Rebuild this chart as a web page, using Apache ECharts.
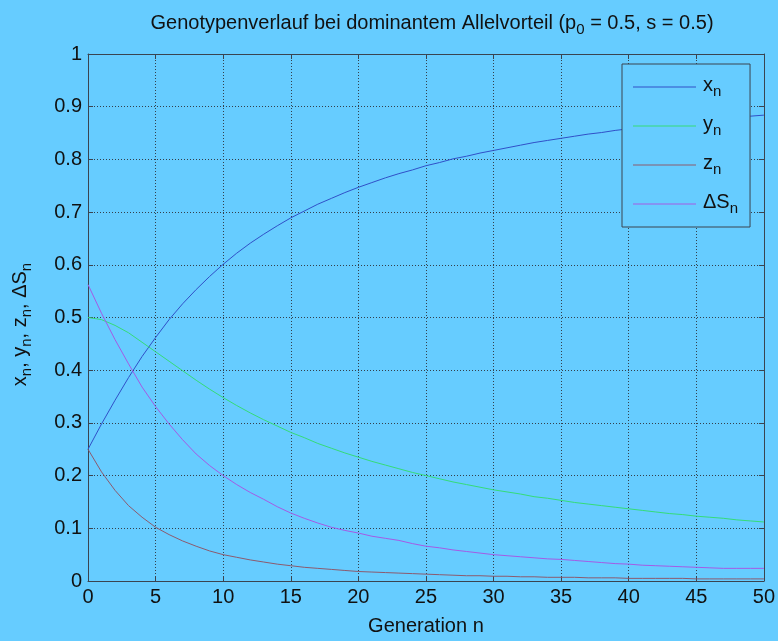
<!DOCTYPE html>
<html>
<head>
<meta charset="utf-8">
<script src="https://cdn.jsdelivr.net/npm/echarts@6/dist/echarts.min.js"></script>
<style>
html,body{margin:0;padding:0;background:#66ccff;}
#chart{width:778px;height:641px;}
</style>
</head>
<body>
<div id="chart"></div>
<script>
const gen = [0,1,2,3,4,5,6,7,8,9,10,11,12,13,14,15,16,17,18,19,20,21,22,23,24,25,26,27,28,29,30,31,32,33,34,35,36,37,38,39,40,41,42,43,44,45,46,47,48,49,50];
const xn = [0.250,0.298,0.343,0.386,0.426,0.462,0.496,0.526,0.553,0.578,0.601,0.622,0.641,0.658,0.674,0.689,0.702,0.715,0.726,0.737,0.747,0.756,0.765,0.773,0.780,0.788,0.794,0.801,0.806,0.812,0.817,0.822,0.827,0.832,0.836,0.840,0.844,0.848,0.851,0.855,0.858,0.861,0.864,0.867,0.870,0.872,0.875,0.877,0.880,0.882,0.884];
const yn = [0.500,0.496,0.485,0.471,0.453,0.435,0.417,0.399,0.381,0.364,0.348,0.333,0.319,0.306,0.294,0.282,0.272,0.261,0.252,0.243,0.235,0.227,0.220,0.213,0.206,0.200,0.194,0.188,0.183,0.178,0.173,0.169,0.165,0.160,0.157,0.153,0.149,0.146,0.143,0.140,0.137,0.134,0.131,0.128,0.126,0.123,0.121,0.119,0.116,0.114,0.112];
const zn = [0.250,0.207,0.172,0.143,0.121,0.102,0.088,0.076,0.066,0.057,0.050,0.045,0.040,0.036,0.032,0.029,0.026,0.024,0.022,0.020,0.018,0.017,0.016,0.015,0.014,0.013,0.012,0.011,0.010,0.010,0.009,0.009,0.008,0.008,0.007,0.007,0.007,0.006,0.006,0.006,0.005,0.005,0.005,0.005,0.005,0.004,0.004,0.004,0.004,0.004,0.004];
const dSn = [0.5625,0.508,0.458,0.412,0.368,0.331,0.298,0.268,0.241,0.219,0.200,0.183,0.168,0.155,0.141,0.129,0.119,0.110,0.102,0.096,0.091,0.085,0.081,0.077,0.071,0.066,0.063,0.059,0.056,0.053,0.050,0.048,0.046,0.044,0.042,0.041,0.039,0.037,0.035,0.033,0.032,0.030,0.029,0.028,0.027,0.026,0.025,0.024,0.024,0.024,0.024];
const seriesNames = ['x_n','y_n','z_n','dS_n'];
const seriesLabels = {'x_n':'{m|x}{s|n}','y_n':'{m|y}{s|n}','z_n':'{m|z}{s|n}','dS_n':'{m|ΔS}{s|n}'};
const colors = ['#3050c8','#34dc78','#8c5a6e','#a45ae6'];
const xTicks = {min:0,max:50,interval:5};
const yTicks = {min:0,max:1,interval:0.1};

const FONT = "'Liberation Sans', Arial, sans-serif";
const axisCol = '#3a4450';
const rich = {
  m:{fontSize:20,fontFamily:FONT,fontWeight:'normal',color:'#111',lineHeight:24,verticalAlign:'top'},
  s:{fontSize:15,fontFamily:FONT,fontWeight:'normal',color:'#111',lineHeight:1,verticalAlign:'bottom'}
};
function pairs(arr){return gen.map((g,i)=>[g,arr[i]]);}
const allData=[xn,yn,zn,dSn];

const chart = echarts.init(document.getElementById('chart'),null,{renderer:'canvas'});
const commonX = {type:'value',min:xTicks.min,max:xTicks.max,interval:xTicks.interval};
const commonY = {type:'value',min:yTicks.min,max:yTicks.max,interval:yTicks.interval};
chart.setOption({
  backgroundColor:'#66ccff',
  animation:false,
  title:{
    text:'{m|Genotypenverlauf bei dominantem Allelvorteil (p}{s|0}{m| = 0.5, s = 0.5)}',
    left:427, top:8, textAlign:'center',
    textStyle:{fontWeight:'normal',rich:rich}
  },
  grid:{left:88,right:13,top:54,bottom:55,show:false},
  legend:{
    data:seriesNames,
    orient:'vertical',
    left:622, top:64,
    padding:[11,12,11,11],
    itemGap:15,
    itemWidth:63, itemHeight:14,
    backgroundColor:'#66ccff',
    borderColor:axisCol, borderWidth:1,
    formatter:function(n){return seriesLabels[n];},
    textStyle:{rich:rich,padding:[0,0,0,2]},
    icon:'path://M0,0 L63,0 L63,1 L0,1 Z'
  },
  xAxis:[
    Object.assign({},commonX,{
      position:'bottom',
      name:'Generation n', nameLocation:'middle', nameGap:35,
      nameTextStyle:{fontSize:20,fontFamily:FONT,color:'#111'},
      axisLine:{show:true,lineStyle:{color:axisCol,width:1}},
      axisTick:{show:true,inside:true,length:5,lineStyle:{color:axisCol}},
      axisLabel:{fontSize:20,fontFamily:FONT,color:'#111',margin:6},
      splitLine:{show:true,lineStyle:{color:'#33404c',width:1,type:[1,2]}}
    }),
    Object.assign({},commonX,{
      position:'top',
      axisLine:{show:true,onZero:false,lineStyle:{color:axisCol,width:1}},
      axisTick:{show:true,inside:true,length:5,lineStyle:{color:axisCol}},
      axisLabel:{show:false},
      splitLine:{show:false}
    })
  ],
  yAxis:[
    Object.assign({},commonY,{
      position:'left',
      name:'{m|x}{s|n}{m|, y}{s|n}{m|, z}{s|n}{m|, ΔS}{s|n}',
      nameLocation:'middle', nameGap:54,
      nameTextStyle:{rich:rich,padding:[0,14,0,0]},
      axisLine:{show:true,lineStyle:{color:axisCol,width:1}},
      axisTick:{show:true,inside:true,length:5,lineStyle:{color:axisCol}},
      axisLabel:{fontSize:20,fontFamily:FONT,color:'#111',margin:6},
      splitLine:{show:true,lineStyle:{color:'#33404c',width:1,type:[1,2]}}
    }),
    Object.assign({},commonY,{
      position:'right',
      axisLine:{show:true,onZero:false,lineStyle:{color:axisCol,width:1}},
      axisTick:{show:true,inside:true,length:5,lineStyle:{color:axisCol}},
      axisLabel:{show:false},
      splitLine:{show:false}
    })
  ],
  series:seriesNames.map((n,i)=>({
    name:n,type:'line',xAxisIndex:0,yAxisIndex:0,
    data:pairs(allData[i]),
    symbol:'none',
    color:colors[i],
    lineStyle:{color:colors[i],width:1},
    itemStyle:{color:colors[i]}
  }))
});
</script>
</body>
</html>
